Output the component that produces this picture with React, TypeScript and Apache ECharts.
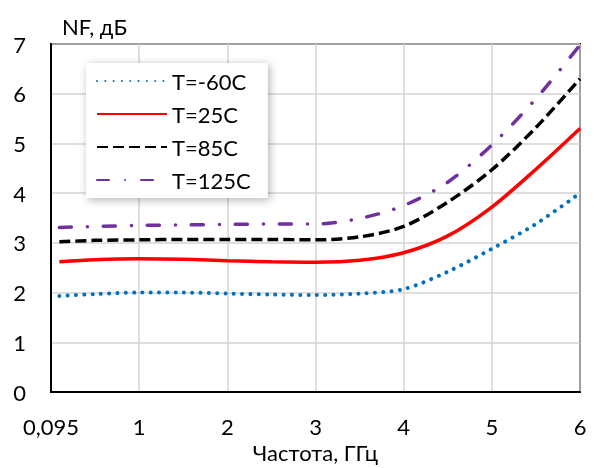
import React, { useEffect, useRef } from "react";
import * as echarts from "echarts";

const freqs = [0.095, 0.5, 1, 1.5, 2, 2.5, 3, 3.5, 4, 4.5, 5, 5.5, 6];
const nfM60 = [1.93, 1.97, 2.0, 2.0, 1.98, 1.96, 1.95, 1.98, 2.07, 2.42, 2.88, 3.38, 4.0];
const nf25 = [2.62, 2.66, 2.68, 2.67, 2.64, 2.62, 2.61, 2.65, 2.8, 3.14, 3.72, 4.48, 5.3];
const nf85 = [3.02, 3.05, 3.06, 3.07, 3.07, 3.07, 3.06, 3.12, 3.33, 3.82, 4.47, 5.32, 6.3];
const nf125 = [3.31, 3.33, 3.35, 3.36, 3.37, 3.38, 3.38, 3.49, 3.75, 4.22, 4.97, 5.9, 6.98];
const seriesNames = ["T=-60C", "T=25C", "T=85C", "T=125C"];
const xTickLabels: Record<number, string> = { 0: "0,095", 1: "1", 2: "2", 3: "3", 4: "4", 5: "5", 6: "6" };

const FONT = "Lato";

export default function App() {
  const ref = useRef<HTMLDivElement>(null);
  useEffect(() => {
    if (!ref.current) return;
    const chart = echarts.init(ref.current, undefined, { renderer: "svg" });
    const pairs = (ys: number[]) => freqs.map((f, i) => [f, ys[i]]);
    const mk = (name: string, ys: number[], lineStyle: any) => ({
      name,
      type: "line",
      data: pairs(ys),
      smooth: 0.3,
      symbol: "none",
      lineStyle,
      itemStyle: { color: lineStyle.color },
    });
    chart.setOption({
      animation: false,
      textStyle: { fontFamily: FONT },
      grid: {
        left: 51,
        top: 44,
        width: 529,
        height: 348,
        outerBoundsMode: "none",
        containLabel: false,
        show: true,
        borderColor: "#000",
        borderWidth: 2,
      },
      xAxis: {
        type: "value",
        min: 0,
        max: 6,
        interval: 1,
        axisLine: { show: true, lineStyle: { color: "#000", width: 2 } },
        axisTick: { show: false },
        splitLine: { show: true, lineStyle: { color: "#d4d4d4", width: 1.5 } },
        axisLabel: {
          fontFamily: FONT,
          fontSize: 22,
          color: "#000",
          margin: 23,
          formatter: (v: number) => xTickLabels[v] ?? String(v),
        },
        name: "Частота, ГГц",
        nameLocation: "middle",
        nameGap: 46,
        nameTextStyle: { fontFamily: FONT, fontSize: 22, lineHeight: 22, color: "#000" },
      },
      yAxis: {
        type: "value",
        min: 0,
        max: 7,
        interval: 1,
        axisLine: { show: true, lineStyle: { color: "#000", width: 2 } },
        axisTick: { show: false },
        splitLine: { show: true, lineStyle: { color: "#d4d4d4", width: 1.5 } },
        axisLabel: { fontFamily: FONT, fontSize: 22, color: "#000", margin: 25 },
      },
      legend: {
        orient: "vertical",
        left: 86,
        top: 63,
        itemWidth: 70,
        itemHeight: 14,
        itemGap: 11,
        padding: [7, 17, 7, 10],
        backgroundColor: "#fff",
        shadowBlur: 8,
        shadowColor: "rgba(0,0,0,0.3)",
        shadowOffsetX: 2,
        shadowOffsetY: 2,
        itemStyle: { color: "transparent", borderWidth: 0, opacity: 0 },
        textStyle: { fontFamily: FONT, fontSize: 22, lineHeight: 22, color: "#000" },
        data: seriesNames,
      },
      graphic: [
        {
          type: "text",
          left: 62,
          top: 15,
          style: { text: "NF, дБ", font: `22px ${FONT}`, fill: "#000" },
        },
      ],
      series: [
        mk(seriesNames[0], nfM60, { color: "#0070C0", width: 4, type: [0.01, 8.3], cap: "round" }),
        mk(seriesNames[1], nf25, { color: "#FF0000", width: 3.5, type: "solid" }),
        mk(seriesNames[2], nf85, { color: "#000000", width: 3.5, type: [11, 5] }),
        mk(seriesNames[3], nf125, { color: "#7030A0", width: 3.5, type: [12, 16, 0.01, 16], cap: "round" }),
      ],
    });
    return () => chart.dispose();
  }, []);
  return <div ref={ref} style={{ position: "fixed", left: 0, top: 0, width: 594, height: 468 }} />;
}
